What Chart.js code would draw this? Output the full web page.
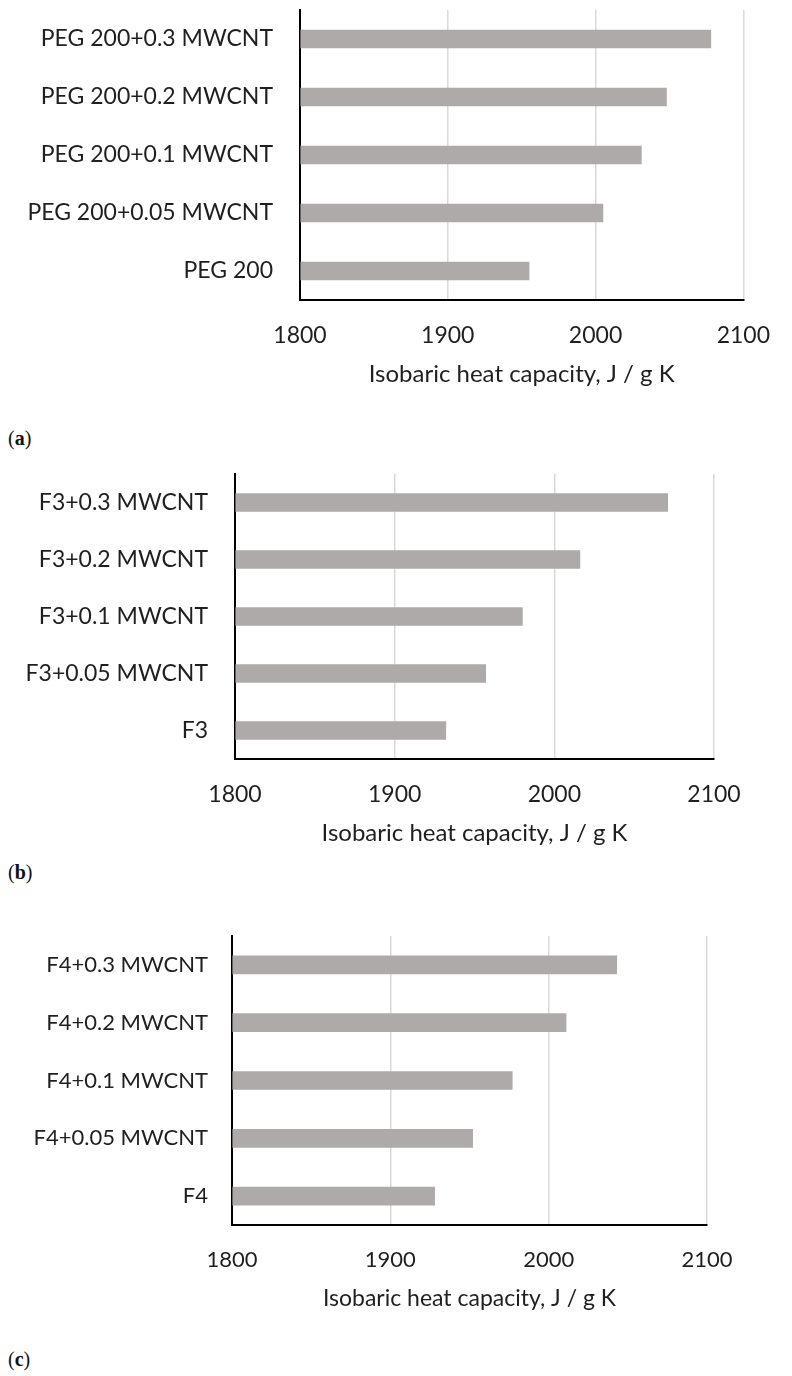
<!DOCTYPE html>
<html>
<head>
<meta charset="utf-8">
<script src="https://cdn.jsdelivr.net/npm/chart.js@4"></script>
<style>
    body { margin: 0; background: #fff; }
    #page { position: relative; width: 792px; height: 1376px; overflow: hidden; }
    canvas { position: absolute; left: 0; }
    .panel-tag { position: absolute; left: 8px; font-family: 'Liberation Serif', 'DejaVu Serif', serif; font-size: 20px; color: #111; line-height: 22px; }
</style>
</head>
<body>
<div id="page">
    <canvas id="chartA"></canvas>
    <canvas id="chartB"></canvas>
    <canvas id="chartC"></canvas>
    <div class="panel-tag" style="top:427px;">(<b>a</b>)</div>
    <div class="panel-tag" style="top:861px;">(<b>b</b>)</div>
    <div class="panel-tag" style="top:1348px;">(<b>c</b>)</div>
</div>
<script>
// --------------------------------------------------------------------------
// DATA (bottom bar first)
// --------------------------------------------------------------------------
const pegLabels = ['PEG 200', 'PEG 200+0.05 MWCNT', 'PEG 200+0.1 MWCNT', 'PEG 200+0.2 MWCNT', 'PEG 200+0.3 MWCNT'];
const pegValues = [1955, 2005, 2031, 2048, 2078];

const f3Labels = ['F3', 'F3+0.05 MWCNT', 'F3+0.1 MWCNT', 'F3+0.2 MWCNT', 'F3+0.3 MWCNT'];
const f3Values = [1932, 1957, 1980, 2016, 2071];

const f4Labels = ['F4', 'F4+0.05 MWCNT', 'F4+0.1 MWCNT', 'F4+0.2 MWCNT', 'F4+0.3 MWCNT'];
const f4Values = [1928, 1952, 1977, 2011, 2043];

const xTickValues = [1800, 1900, 2000, 2100];
const xAxisTitle = 'Isobaric heat capacity, J / g K';

// --------------------------------------------------------------------------
// LAYOUT / STYLE
// --------------------------------------------------------------------------
const PAGE_W = 792;
const TOP_PAD = 20;
const AXIS_BOX_H = 100;
const BAR_COLOR = '#aeaaaa';
const GRID_COLOR = '#d9d9d9';
const TEXT_COLOR = '#1f1f1f';
const FONT_FAMILY = 'Lato, "Open Sans", sans-serif';

function buildBarChart(canvasId, labels, values, area, fontSize) {
    const canvas = document.getElementById(canvasId);
    const top = area.top - TOP_PAD;
    const height = (area.bottom - area.top) + TOP_PAD + AXIS_BOX_H;
    canvas.width = PAGE_W;
    canvas.height = height;
    canvas.style.top = top + 'px';
    canvas.style.width = PAGE_W + 'px';
    canvas.style.height = height + 'px';

    const titleSize = fontSize + 1;
    const titleLineH = titleSize * 1.2;
    return new Chart(canvas, {
        type: 'bar',
        data: {
            labels,
            datasets: [{
                data: values,
                base: xTickValues[0],
                backgroundColor: BAR_COLOR,
                borderWidth: 0,
                barThickness: 18,
            }]
        },
        options: {
            indexAxis: 'y',
            responsive: false,
            animation: false,
            devicePixelRatio: 1,
            layout: { padding: { left: 0, top: TOP_PAD, right: PAGE_W - area.right, bottom: 0 } },
            plugins: { legend: { display: false }, tooltip: { enabled: false } },
            scales: {
                x: {
                    min: xTickValues[0],
                    max: xTickValues[xTickValues.length - 1],
                    afterBuildTicks: (scale) => { scale.ticks = xTickValues.map(v => ({ value: v })); },
                    afterFit: (scale) => { scale.height = AXIS_BOX_H; },
                    grid: { color: GRID_COLOR, lineWidth: 1.5, drawTicks: false },
                    border: { display: true, color: '#000', width: 2 },
                    ticks: {
                        padding: 22,
                        color: TEXT_COLOR,
                        font: { family: FONT_FAMILY, size: fontSize },
                        callback: (v) => String(v)
                    },
                    title: {
                        display: true,
                        text: xAxisTitle,
                        color: TEXT_COLOR,
                        font: { family: FONT_FAMILY, size: titleSize },
                        padding: { top: 0, bottom: 26 - titleLineH / 2 }
                    }
                },
                y: {
                    reverse: true,
                    afterFit: (scale) => { scale.width = area.left; },
                    // transparent tick marks give the gap between labels and the axis
                    grid: { color: 'transparent', drawTicks: true, tickLength: area.left - area.labelRight },
                    border: { display: true, color: '#000', width: 2 },
                    ticks: { padding: 0, color: TEXT_COLOR, font: { family: FONT_FAMILY, size: fontSize } }
                }
            }
        }
    });
}

buildBarChart('chartA', pegLabels, pegValues, { left: 300, right: 746, top: 10, bottom: 300, labelRight: 273 }, 23);
buildBarChart('chartB', f3Labels, f3Values, { left: 235, right: 714, top: 474, bottom: 759, labelRight: 208 }, 23);
buildBarChart('chartC', f4Labels, f4Values, { left: 232, right: 707, top: 936, bottom: 1225, labelRight: 208 }, 22);
</script>
</body>
</html>
